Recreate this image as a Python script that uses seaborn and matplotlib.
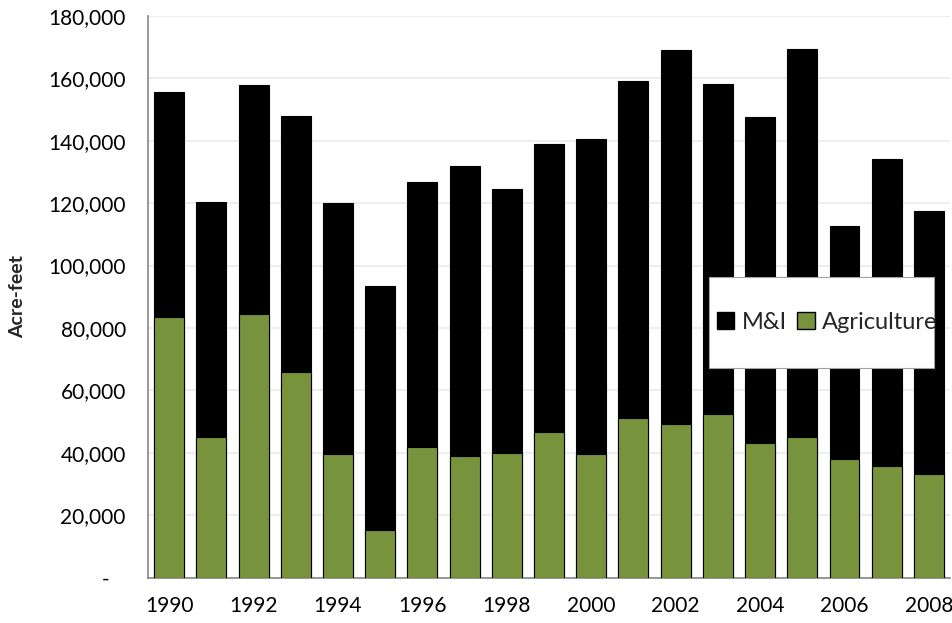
import matplotlib
matplotlib.use("Agg")
import matplotlib.pyplot as plt
from matplotlib.patches import Rectangle, Patch
from matplotlib.ticker import FixedLocator, FuncFormatter
import numpy as np
import pandas as pd
import seaborn as sns

years = [1990, 1991, 1992, 1993, 1994, 1995, 1996, 1997, 1998, 1999,
         2000, 2001, 2002, 2003, 2004, 2005, 2006, 2007, 2008]
total_use = [155700, 120300, 157800, 148100, 120000, 93600, 126900, 131800,
             124700, 139100, 140700, 159200, 169100, 158300, 147500, 169300,
             112800, 134300, 117600]
agriculture = [83500, 45000, 84600, 66000, 39700, 15200, 41900, 39000,
               40000, 46700, 39700, 51000, 49300, 52400, 43000, 45000,
               38100, 35700, 33200]
m_and_i = [t - a for t, a in zip(total_use, agriculture)]

series_labels = ["M&I", "Agriculture"]
ag_green = "#77933C"

df = pd.DataFrame({"year": [str(y) for y in years],
                   "total": total_use,
                   "agriculture": agriculture,
                   "mi": m_and_i})

sns.set_theme(style="white")
plt.rcParams["font.family"] = ["Lato", "DejaVu Sans"]

fig = plt.figure(figsize=(9.53, 6.23), dpi=100)
ax = fig.add_axes([0.1553, 0.0730, 0.8416, 0.9013])

# stacked bars: the full bar is the total, agriculture sits at the bottom
sns.barplot(data=df, x="year", y="total", color="black", width=0.71,
            edgecolor="black", linewidth=0.8, saturation=1, ax=ax, zorder=2)
sns.barplot(data=df, x="year", y="agriculture", color=ag_green, width=0.71,
            edgecolor="black", linewidth=0.8, saturation=1, ax=ax, zorder=3)

ax.set_xlim(-0.5, len(years) - 0.5)
ax.set_ylim(0, 180000)
ax.yaxis.set_major_locator(FixedLocator(np.arange(0, 180001, 20000)))
ax.yaxis.set_major_formatter(FuncFormatter(
    lambda v, p: "-   " if v == 0 else f"{int(v):,}"))

# labels every other year, tick marks between categories
ax.set_xticks(range(0, len(years), 2))
ax.set_xticklabels([str(y) for y in years[::2]])
ax.set_xticks(np.arange(-0.5, len(years), 1.0), minor=True)
ax.tick_params(axis="x", which="major", length=0, pad=13, labelsize=15,
               colors="black")
ax.tick_params(axis="x", which="minor", length=7, width=1, color="#868686",
               direction="out")
ax.tick_params(axis="y", length=7, width=1, direction="out",
               labelsize=15, pad=9, colors="#868686", labelcolor="black")

ax.grid(axis="y", color="#EBEBEB", linewidth=1.2, zorder=0)
ax.set_axisbelow(True)
for side in ("top", "right"):
    ax.spines[side].set_visible(False)
for side in ("left", "bottom"):
    ax.spines[side].set_color("#868686")
    ax.spines[side].set_linewidth(1.2)

ax.set_xlabel("")
ax.set_ylabel("Acre-feet", fontsize=14, fontweight="bold", labelpad=16)

# legend box
box = Rectangle((0.70, 0.373), 0.28, 0.163, transform=ax.transAxes,
                facecolor="white", edgecolor="#A0A0A0", linewidth=0.8,
                zorder=5)
ax.add_patch(box)
handles = [Patch(facecolor="black", edgecolor="black", label=series_labels[0]),
           Patch(facecolor=ag_green, edgecolor="black", label=series_labels[1])]
leg = ax.legend(handles=handles, loc="center left", ncol=2, frameon=False,
                bbox_to_anchor=(0.709, 0.373, 0.27, 0.163),
                borderaxespad=0, borderpad=0,
                fontsize=17, handlelength=0.75, handleheight=0.75,
                handletextpad=0.3, columnspacing=0.45)
leg.set_zorder(6)

fig.savefig("out.png", dpi=100)
